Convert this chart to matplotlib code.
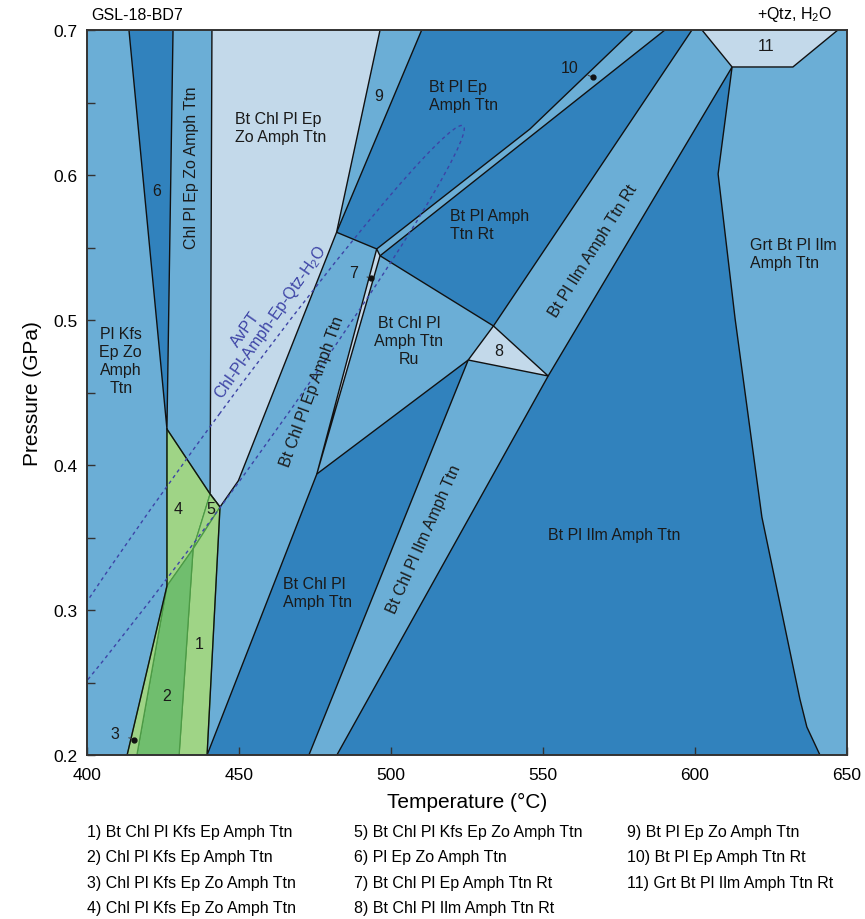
import matplotlib
matplotlib.use('Agg')
import matplotlib.pyplot as plt
import numpy as np
from matplotlib.patches import Polygon, Ellipse

# colours of the field groups
MEDIUM = '#6baed6'
DARK = '#3182bd'
LIGHT = '#c3d9ea'
GREEN = '#9fd486'
GREEN_DARK = '#70be6e'
GREEN_LINE = '#4c9a45'

# field polygons, (T degC, P GPa)
pl_ep_zo_amph_ttn = [(413.8, 0.700), (428.3, 0.700), (426.3, 0.4248)]
bt_pl_ep_amph_ttn = [(510.1, 0.700), (579.7, 0.700), (545.7, 0.6317), (495.3, 0.5490), (482.1, 0.5605)]
bt_pl_amph_ttn_rt = [(496.4, 0.5443), (590.1, 0.700), (599.0, 0.700), (533.7, 0.4959)]
bt_chl_pl_amph_ttn = [(439.5, 0.200), (475.6, 0.3938), (525.4, 0.4724), (473.0, 0.200)]
bt_pl_ilm_amph_ttn = [(551.7, 0.4614), (612.2, 0.6745), (607.6, 0.6007), (613.2, 0.5007),
                      (622.0, 0.3641), (634.5, 0.2386), (636.8, 0.2193), (641.1, 0.200), (482.2, 0.200)]

bt_chl_pl_ep_zo_amph_ttn = [(441.1, 0.700), (496.4, 0.700), (482.1, 0.5605), (449.8, 0.3892),
                            (443.75, 0.3710), (440.5, 0.3800)]
field_7 = [(495.3, 0.5490), (496.4, 0.5443), (475.6, 0.3938)]
field_8 = [(533.7, 0.4959), (525.4, 0.4724), (551.7, 0.4614)]
field_11 = [(602.3, 0.700), (647.0, 0.700), (632.2, 0.6745), (612.2, 0.6745)]

field_4 = [(426.3, 0.4248), (440.5, 0.3800), (434.9, 0.3421), (426.3, 0.3166)]
field_5 = [(440.5, 0.3800), (443.75, 0.3710), (434.9, 0.3421)]
field_1 = [(434.9, 0.3421), (443.75, 0.3710), (439.5, 0.200), (430.3, 0.200)]
field_2 = [(426.3, 0.3166), (434.9, 0.3421), (430.3, 0.200), (416.4, 0.200)]
field_3 = [(426.3, 0.3166), (416.4, 0.200), (413.2, 0.200)]
green_edge_right = [(426.3, 0.4248), (440.5, 0.3800), (443.75, 0.3710), (439.5, 0.200)]
green_edge_left = [(426.3, 0.4248), (426.3, 0.3166), (413.2, 0.200)]

# AvPT result (Chl-Pl-Amph-Ep-Qtz-H2O), ellipse drawn at 2 sigma
avpt_T = 443.7
avpt_P = 0.403
avpt_sdT = 40.2
avpt_sdP = 0.1156
avpt_corr = 0.990

# field labels: text, T, P, rotation, alignment
labels = [
    ('6', 423.0, 0.589, 0, 'center'),
    ('Chl Pl Ep Zo Amph Ttn', 434.4, 0.606, 90, 'center'),
    ('Bt Chl Pl Ep\nZo Amph Ttn', 448.7, 0.633, 0, 'left'),
    ('9', 496.1, 0.655, 0, 'center'),
    ('Bt Pl Ep\nAmph Ttn', 512.6, 0.655, 0, 'left'),
    ('Bt Pl Amph\nTtn Rt', 519.4, 0.566, 0, 'left'),
    ('Bt Pl Ilm Amph Ttn Rt', 566.4, 0.548, 58, 'center'),
    ('Grt Bt Pl Ilm\nAmph Ttn', 618.1, 0.546, 0, 'left'),
    ('Bt Chl Pl\nAmph Ttn\nRu', 505.9, 0.486, 0, 'center'),
    ('8', 535.6, 0.479, 0, 'center'),
    ('Pl Kfs\nEp Zo\nAmph\nTtn', 411.1, 0.472, 0, 'center'),
    ('Bt Chl Pl Ep Amph Ttn', 474.2, 0.451, 70, 'center'),
    ('Bt Chl Pl\nAmph Ttn', 464.6, 0.312, 0, 'left'),
    ('Bt Chl Pl Ilm Amph Ttn', 510.9, 0.349, 66, 'center'),
    ('Bt Pl Ilm Amph Ttn', 573.4, 0.352, 0, 'center'),
    ('4', 430.0, 0.370, 0, 'center'),
    ('5', 440.8, 0.370, 0, 'center'),
    ('1', 436.8, 0.277, 0, 'center'),
    ('2', 426.2, 0.241, 0, 'center'),
    ('11', 623.3, 0.689, 0, 'center'),
]
# small fields labelled with a pointer: text, text position, point
pointers = [
    ('3', (409.2, 0.215), (415.6, 0.2106)),
    ('7', (487.6, 0.533), (493.3, 0.5288)),
    ('10', (558.9, 0.674), (566.4, 0.6674)),
]

legend_items = [
    '1) Bt Chl Pl Kfs Ep Amph Ttn', '2) Chl Pl Kfs Ep Amph Ttn',
    '3) Chl Pl Kfs Ep Zo Amph Ttn', '4) Chl Pl Kfs Ep Zo Amph Ttn',
    '5) Bt Chl Pl Kfs Ep Zo Amph Ttn', '6) Pl Ep Zo Amph Ttn',
    '7) Bt Chl Pl Ep Amph Ttn Rt', '8) Bt Chl Pl Ilm Amph Ttn Rt',
    '9) Bt Pl Ep Zo Amph Ttn', '10) Bt Pl Ep Amph Ttn Rt',
    '11) Grt Bt Pl Ilm Amph Ttn Rt',
]

plt.rcParams['font.family'] = ['Liberation Sans', 'DejaVu Sans']
plt.rcParams['mathtext.default'] = 'regular'

fig = plt.figure(figsize=(8.65, 9.2), dpi=100)
ax = fig.add_axes([87 / 865, 164 / 920, 760 / 865, 725 / 920])
ax.set_facecolor(MEDIUM)

for verts in [pl_ep_zo_amph_ttn, bt_pl_ep_amph_ttn, bt_pl_amph_ttn_rt, bt_chl_pl_amph_ttn, bt_pl_ilm_amph_ttn]:
    ax.add_patch(Polygon(verts, closed=True, fc=DARK, ec='#111111', lw=1.0, zorder=1))
for verts in [bt_chl_pl_ep_zo_amph_ttn, field_7, field_8, field_11]:
    ax.add_patch(Polygon(verts, closed=True, fc=LIGHT, ec='#111111', lw=1.0, zorder=1))
for verts, col in [(field_4, GREEN), (field_5, GREEN), (field_1, GREEN), (field_2, GREEN_DARK), (field_3, GREEN)]:
    ax.add_patch(Polygon(verts, closed=True, fc=col, ec=GREEN_LINE, lw=0.9, zorder=2))
for edge in [green_edge_right, green_edge_left]:
    t, p = zip(*edge)
    ax.plot(t, p, color='#111111', lw=1.0, zorder=3)

# AvPT error ellipse
cov = np.array([[avpt_sdT ** 2, avpt_corr * avpt_sdT * avpt_sdP],
                [avpt_corr * avpt_sdT * avpt_sdP, avpt_sdP ** 2]])
vals, vecs = np.linalg.eigh(cov)
ang = np.degrees(np.arctan2(vecs[1, 1], vecs[0, 1]))
ax.add_patch(Ellipse((avpt_T, avpt_P), width=4 * np.sqrt(vals[1]), height=4 * np.sqrt(vals[0]),
                     angle=ang, fill=False, ec='#3d44a6', lw=1.0, ls=(0, (2.5, 2.5)), zorder=4))
ax.text(452.0, 0.494, 'AvPT', rotation=55, rotation_mode='anchor', ha='center', va='center',
        color='#3d44a6', fontsize=11.5, zorder=5)
ax.text(460.5, 0.4986, 'Chl-Pl-Amph-Ep-Qtz-H$_2$O', rotation=55, rotation_mode='anchor',
        ha='center', va='center', color='#3d44a6', fontsize=11.5, zorder=5)

for txt, t, p, rot, ha in labels:
    ax.text(t, p, txt, rotation=rot, rotation_mode='anchor', ha=ha, va='center',
            multialignment=ha, fontsize=11.5, color='#1a1a1a', linespacing=1.25, zorder=5)
for txt, (tt, tp), (pt, pp) in pointers:
    ax.annotate(txt, xy=(pt, pp), xytext=(tt, tp), ha='center', va='center', fontsize=11.5,
                color='#1a1a1a', zorder=5,
                arrowprops=dict(arrowstyle='-', color='#444444', lw=0.8, shrinkA=5, shrinkB=0))
    ax.plot(pt, pp, 'o', ms=3.5, color='#111111', zorder=6)

ax.set_xlim(400, 650)
ax.set_ylim(0.2, 0.7)
ax.set_xticks(np.arange(400, 651, 50))
ax.set_yticks(np.arange(0.2, 0.71, 0.1))
ax.set_yticks(np.arange(0.25, 0.7, 0.1), minor=True)
ax.set_yticklabels(['%.1f' % v for v in np.arange(0.2, 0.71, 0.1)])
ax.tick_params(which='both', direction='in', length=6, width=1, labelsize=12.5, color='#333333')
ax.tick_params(axis='x', pad=9)
ax.tick_params(axis='y', pad=7)
for s in ax.spines.values():
    s.set_linewidth(1.4)
    s.set_color('#333333')
    s.set_zorder(10)
ax.set_xlabel('Temperature (°C)', fontsize=15, labelpad=7)
ax.set_ylabel('Pressure (GPa)', fontsize=15, labelpad=8)

fig.text(137 / 865, 1 - 15 / 920, 'GSL-18-BD7', ha='center', va='center', fontsize=11.5)
fig.text(832 / 865, 1 - 15 / 920, '+Qtz, H$_2$O', ha='right', va='center', fontsize=11.5)

col_x = [87, 354, 627]
row_y = [833, 858, 884, 909]
for i, item in enumerate(legend_items):
    c, r = divmod(i, 4)
    fig.text(col_x[c] / 865, 1 - row_y[r] / 920, item, ha='left', va='center', fontsize=11.5)

fig.savefig('out.png', dpi=100)
